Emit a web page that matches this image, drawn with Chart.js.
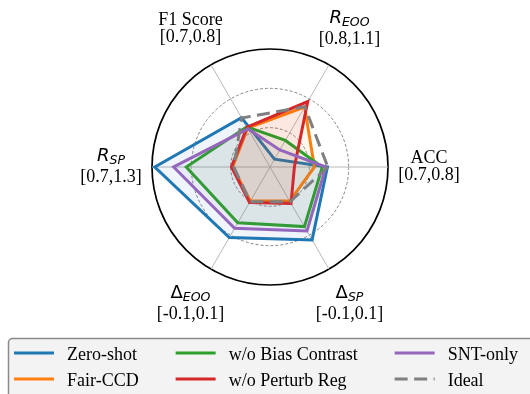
<!DOCTYPE html>
<html>
<head>
<meta charset="utf-8">
<script src="https://cdn.jsdelivr.net/npm/chart.js@4.4.0/dist/chart.umd.min.js"></script>
<style>
    html, body { margin: 0; padding: 0; background: #fff; }
    #wrap { width: 530px; height: 394px; }
</style>
</head>
<body>
<div id="wrap"><canvas id="radar" width="530" height="394"></canvas></div>
<script>
// axes, clockwise from the right (ACC)
const axisNames = ["ACC", "Δ_SP", "Δ_EOO", "R_SP", "F1 Score", "R_EOO"];
const axisRanges = ["[0.7,0.8]", "[-0.1,0.1]", "[-0.1,0.1]", "[0.7,1.3]", "[0.7,0.8]", "[0.8,1.1]"];

const methodNames = ["Zero-shot", "Fair-CCD", "w/o Bias Contrast", "w/o Perturb Reg", "SNT-only", "Ideal"];
const zeroShot  = [1.46, 2.14, 2.07, 2.93, 1.45, 0.23];
const fairCCD   = [1.13, 1.00, 1.00, 0.95, 1.14, 1.76];
const woBias    = [1.33, 1.75, 1.64, 2.13, 1.18, 0.78];
const woPerturb = [0.62, 1.07, 1.04, 0.98, 1.17, 1.92];
const sntOnly   = [1.42, 1.88, 1.80, 2.45, 1.12, 0.50];
const ideal     = [1.47, 1.02, 1.02, 0.92, 1.44, 1.77];

const colors = ["#1f77b4", "#ff7f0e", "#2ca02c", "#d62728", "#9467bd", "#7f7f7f"];
const fills  = ["rgba(31,119,180,0.07)", "rgba(255,127,14,0.07)", "rgba(44,160,44,0.07)",
                "rgba(214,39,40,0.07)", "rgba(148,103,189,0.07)", "rgba(0,0,0,0)"];

const SERIF = '"Liberation Serif", "Times New Roman", serif';
const SANS = '"DejaVu Sans", sans-serif';
const IDEAL_DASH = [13, 6.5];

const series = [zeroShot, fairCCD, woBias, woPerturb, sntOnly, ideal];
const datasets = series.map((values, i) => ({
    label: methodNames[i],
    data: values,
    borderColor: colors[i],
    backgroundColor: fills[i],
    borderWidth: 3,
    borderDash: methodNames[i] === "Ideal" ? IDEAL_DASH : [],
    fill: methodNames[i] !== "Ideal",
    pointRadius: 0,
    order: series.length - 1 - i
}));

// writes "R_EOO" as R with a subscript, plain text otherwise
const drawName = (ctx, text, cx, baseline) => {
    const parts = text.split("_");
    if (parts.length < 2) {
        ctx.font = `18px ${SERIF}`;
        ctx.textAlign = "center";
        ctx.fillText(text, cx, baseline);
        return;
    }
    const mainFont = parts[0] === "Δ" ? `18px ${SANS}` : `italic 18px ${SANS}`;
    const subFont = `italic 12.5px ${SANS}`;
    ctx.font = mainFont;
    const w1 = ctx.measureText(parts[0]).width;
    ctx.font = subFont;
    const w2 = ctx.measureText(parts[1]).width;
    const x = cx - (w1 + w2) / 2;
    ctx.textAlign = "left";
    ctx.font = mainFont;
    ctx.fillText(parts[0], x, baseline);
    ctx.font = subFont;
    ctx.fillText(parts[1], x + w1, baseline + 3);
};

const axisLabelPlugin = {
    id: "axisLabels",
    afterDraw(chart) {
        const scale = chart.scales.r;
        const ctx = chart.ctx;
        ctx.save();
        ctx.fillStyle = "#000";
        ctx.textBaseline = "alphabetic";
        axisNames.forEach((name, i) => {
            const pos = scale.getPointPosition(i, scale.drawingArea + 41);
            const gap = name.includes("_") ? 21 : 17;
            const mid = pos.y + 4;
            drawName(ctx, name, pos.x, mid - gap / 2);
            ctx.font = `18px ${SERIF}`;
            ctx.textAlign = "center";
            ctx.fillText(axisRanges[i], pos.x, mid + gap / 2);
        });
        ctx.restore();
    }
};

const legendPlugin = {
    id: "boxLegend",
    afterDraw(chart) {
        const ctx = chart.ctx;
        const sets = chart.data.datasets;
        ctx.save();
        // frame
        ctx.beginPath();
        ctx.roundRect(8.5, 338.5, 540, 70, 4);
        ctx.fillStyle = "#f3f3f3";
        ctx.fill();
        ctx.lineWidth = 1.5;
        ctx.strokeStyle = "#8a8a8a";
        ctx.stroke();

        const rows = 2;
        const rowY = [353, 379];
        ctx.font = `18px ${SERIF}`;
        ctx.textAlign = "left";
        ctx.textBaseline = "alphabetic";
        let x = 14;
        for (let c = 0; c * rows < sets.length; c++) {
            let maxW = 0;
            for (let r = 0; r < rows; r++) {
                const ds = sets[c * rows + r];
                if (!ds) continue;
                const y = rowY[r];
                ctx.beginPath();
                ctx.setLineDash(ds.borderDash || []);
                ctx.lineWidth = 3;
                ctx.strokeStyle = ds.borderColor;
                ctx.moveTo(x, y);
                ctx.lineTo(x + 40, y);
                ctx.stroke();
                ctx.setLineDash([]);
                ctx.fillStyle = "#000";
                ctx.fillText(ds.label, x + 53, y + 6.5);
                maxW = Math.max(maxW, ctx.measureText(ds.label).width);
            }
            x += 53 + maxW + 37;
        }
        ctx.restore();
    }
};

new Chart(document.getElementById("radar"), {
    type: "radar",
    data: { labels: axisNames, datasets: datasets },
    options: {
        responsive: false,
        animation: false,
        layout: { padding: { left: 152, right: 141, top: 49, bottom: 108 } },
        plugins: { legend: { display: false }, tooltip: { enabled: false } },
        elements: { line: { tension: 0 } },
        scales: {
            r: {
                min: 0,
                max: 3,
                startAngle: 90,
                ticks: { display: false, stepSize: 1 },
                pointLabels: { display: false },
                grid: {
                    circular: true,
                    color: c => c.tick && c.tick.value === 3 ? "#000" : "#858585",
                    lineWidth: c => c.tick && c.tick.value === 3 ? 1.7 : 1
                },
                border: { dash: c => c.tick && c.tick.value === 3 ? [] : [3, 2] },
                angleLines: { color: "#b8b8b8", lineWidth: 1 }
            }
        }
    },
    plugins: [axisLabelPlugin, legendPlugin]
});
</script>
</body>
</html>
